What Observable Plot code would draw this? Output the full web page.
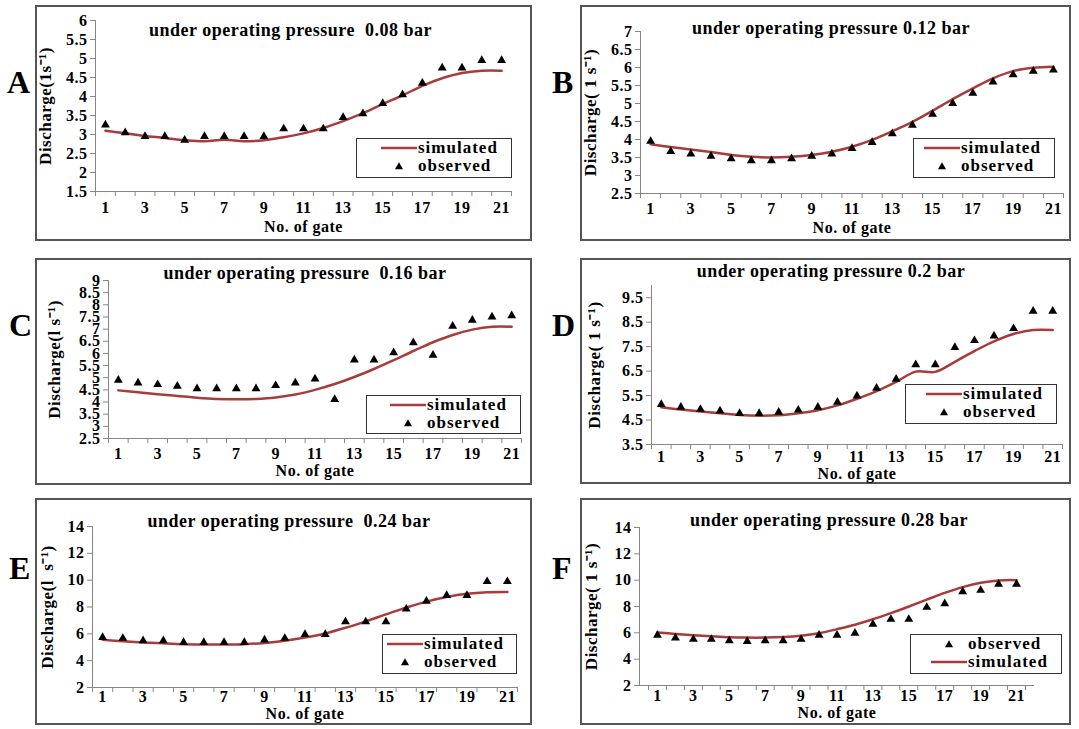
<!DOCTYPE html>
<html><head><meta charset="utf-8">
<script src="https://cdn.jsdelivr.net/npm/d3@7"></script>
<script src="https://cdn.jsdelivr.net/npm/@observablehq/plot@0.6"></script>
<style>
body{margin:0;background:#fff;}
#fig{position:relative;width:1079px;height:729px;overflow:hidden;font-family:'Liberation Serif','Times New Roman',serif;font-weight:bold;color:#000;background:#fff;}
.box{position:absolute;border:2px solid #555;box-sizing:border-box;}
.letter{position:absolute;font-size:32px;font-weight:bold;line-height:1;}
.legend{position:absolute;border:1.5px solid #333;background:#fff;box-sizing:border-box;font-size:17px;letter-spacing:1px;}
.legend .row{position:absolute;left:0;right:0;height:18px;display:flex;align-items:center;white-space:nowrap;}
.legend svg{flex:none;}
.plotwrap{position:absolute;}
.plotwrap svg{overflow:visible;}
.plotwrap svg text{font-family:'Liberation Serif','Times New Roman',serif;font-weight:bold;letter-spacing:0.5px;}
</style></head><body><div id="fig"></div><script>
// ---- data ----
const gates = [1,2,3,4,5,6,7,8,9,10,11,12,13,14,15,16,17,18,19,20,21];
const xTickLabels = [1,3,5,7,9,11,13,15,17,19,21];
const xTitle = "No. of gate";

const titleA = "under operating pressure  0.08 bar";
const ylabelA = "Discharge(1s\u207B\u00B9)";
const yTicksA = [1.5,2,2.5,3,3.5,4,4.5,5,5.5,6];
const obsA = [3.25,3.05,2.95,2.95,2.85,2.95,2.95,2.95,2.95,3.15,3.15,3.15,3.45,3.55,3.82,4.05,4.35,4.75,4.75,4.95,4.95];
const simA = [3.10,3.03,2.96,2.91,2.85,2.82,2.86,2.82,2.85,2.93,3.03,3.17,3.35,3.56,3.80,4.03,4.28,4.48,4.62,4.68,4.68];

const titleB = "under operating pressure 0.12 bar";
const ylabelB = "Discharge( 1 s\u207B\u00B9)";
const yTicksB = [2.5,3,3.5,4,4.5,5,5.5,6,6.5,7];
const obsB = [3.95,3.67,3.60,3.54,3.47,3.41,3.41,3.47,3.54,3.60,3.75,3.92,4.16,4.40,4.70,5.00,5.29,5.60,5.80,5.90,5.93];
const simB = [3.87,3.79,3.72,3.65,3.57,3.52,3.50,3.52,3.57,3.66,3.80,3.99,4.23,4.49,4.80,5.12,5.42,5.70,5.90,5.99,6.02];

const titleC = "under operating pressure  0.16 bar";
const ylabelC = "Discharge(l s\u207B\u00B9)";
const yTicksC = [2.5,3,3.5,4,4.5,5,5.5,6,6.5,7,7.5,8,8.5,9];
const obsC = [4.90,4.79,4.72,4.65,4.55,4.55,4.55,4.55,4.68,4.79,4.95,4.11,5.73,5.73,6.03,6.44,5.93,7.12,7.37,7.50,7.55];
const simC = [4.48,4.40,4.32,4.25,4.18,4.13,4.11,4.13,4.19,4.31,4.50,4.74,5.03,5.36,5.72,6.10,6.46,6.76,6.98,7.10,7.10];

const titleD = "under operating pressure 0.2 bar";
const ylabelD = "Discharge( 1 s\u207B\u00B9)";
const yTicksD = [3.5,4.5,5.5,6.5,7.5,8.5,9.5];
const yMaxD = 10;
const obsD = [5.14,5.03,4.94,4.87,4.77,4.77,4.82,4.91,5.03,5.23,5.49,5.80,6.17,6.76,6.76,7.47,7.75,7.94,8.24,8.95,8.95];
const simD = [5.02,4.93,4.85,4.78,4.71,4.68,4.70,4.78,4.90,5.10,5.37,5.68,6.06,6.48,6.47,6.88,7.32,7.72,8.02,8.18,8.18];

const titleE = "under operating pressure  0.24 bar";
const ylabelE = "Discharge(l  s\u207B\u00B9)";
const yTicksE = [2,4,6,8,10,12,14];
const obsE = [5.74,5.67,5.49,5.49,5.36,5.36,5.36,5.36,5.54,5.67,5.95,5.95,6.90,6.90,6.90,7.85,8.44,8.87,8.87,9.90,9.90];
const simE = [5.56,5.45,5.36,5.29,5.23,5.20,5.20,5.23,5.32,5.48,5.72,6.03,6.45,6.93,7.45,7.95,8.40,8.74,8.98,9.10,9.12];

const titleF = "under operating pressure 0.28 bar";
const ylabelF = "Discharge( 1 s\u207B\u00B9)";
const yTicksF = [2,4,6,8,10,12,14];
const obsF = [5.82,5.61,5.51,5.51,5.41,5.35,5.41,5.41,5.51,5.82,5.82,5.97,6.65,7.03,7.03,7.94,8.22,9.12,9.23,9.69,9.69];
const simF = [6.03,5.92,5.82,5.74,5.67,5.64,5.64,5.68,5.78,5.97,6.28,6.62,7.03,7.50,8.00,8.52,9.03,9.47,9.80,9.98,10.00];

// ---- layout / style (not data) ----
const LINE = "#A83C3C", AXIS = "#868686";
const FONT = "'Liberation Serif','Times New Roman',serif";
const panels = [
  {letter:"A", title:titleA, ylabel:ylabelA, yTicks:yTicksA, yDomain:[yTicksA[0], yTicksA[yTicksA.length-1]], sim:simA, obs:obsA, xDomain:[0.5,21.5],
   box:[35,5,497,236], plot:[95,20,511,191], letterPos:[7,66], titleOff:[-13,10], ylabOff:-50, xlabOff:35, xPad:10,
   legend:[356,138,156,40], legendOrder:["simulated","observed"]},
  {letter:"B", title:titleB, ylabel:ylabelB, yTicks:yTicksB, yDomain:[yTicksB[0], yTicksB[yTicksB.length-1]], sim:simB, obs:obsB, xDomain:[0.5,21.5],
   box:[580,5,491,236], plot:[640,31,1063,193], letterPos:[552,66], titleOff:[-21,-3], ylabOff:-50, xlabOff:34, xPad:9,
   legend:[913,138,142,40], legendOrder:["simulated","observed"]},
  {letter:"C", title:titleC, ylabel:ylabelC, yTicks:yTicksC, yDomain:[yTicksC[0], yTicksC[yTicksC.length-1]], sim:simC, obs:obsC, xDomain:[0.5,21.5],
   box:[35,258,497,227], plot:[108,280,521,438], letterPos:[9,309], titleOff:[-10,-7], ylabOff:-54, xlabOff:32, xPad:9,
   legend:[366,395,155,39], legendOrder:["simulated","observed"]},
  {letter:"D", title:titleD, ylabel:ylabelD, yTicks:yTicksD, yDomain:[yTicksD[0], yMaxD], sim:simD, obs:obsD, xDomain:[0.5,21.5],
   box:[580,258,491,226], plot:[651,285,1062,444], letterPos:[552,309], titleOff:[-26,-14], ylabOff:-57, xlabOff:29, xPad:6,
   legend:[905,384,152,40], legendOrder:["simulated","observed"]},
  {letter:"E", title:titleE, ylabel:ylabelE, yTicks:yTicksE, yDomain:[yTicksE[0], yTicksE[yTicksE.length-1]], sim:simE, obs:obsE, xDomain:[0.5,21.5],
   box:[35,498,497,227], plot:[92,526,517,687], letterPos:[9,552], titleOff:[-16,-5], ylabOff:-45, xlabOff:26, xPad:3,
   legend:[382,634,135,40], legendOrder:["simulated","observed"]},
  {letter:"F", title:titleF, ylabel:ylabelF, yTicks:yTicksF, yDomain:[yTicksF[0], yTicksF[yTicksF.length-1]], sim:simF, obs:obsF, xDomain:[0,22],
   box:[580,498,491,227], plot:[639,527,1034,685], letterPos:[552,552], titleOff:[-8,-7], ylabOff:-48, xlabOff:27, xPad:4,
   legend:[910,634,152,40], legendOrder:["observed","simulated"]}
];

const fig = document.getElementById("fig");

function legendSymbol(name){
  const ns = "http://www.w3.org/2000/svg";
  const s = document.createElementNS(ns,"svg");
  s.setAttribute("width","40"); s.setAttribute("height","18");
  if (name === "simulated") {
    const l = document.createElementNS(ns,"line");
    l.setAttribute("x1","4"); l.setAttribute("x2","40"); l.setAttribute("y1","9"); l.setAttribute("y2","9");
    l.setAttribute("stroke",LINE); l.setAttribute("stroke-width","2.5");
    s.appendChild(l);
  } else {
    const p = document.createElementNS(ns,"path");
    p.setAttribute("d", d3.symbol(d3.symbolTriangle, 9*Math.PI)());
    p.setAttribute("transform","translate(22,10)");
    p.setAttribute("fill","black");
    s.appendChild(p);
  }
  return s;
}

const txt = {fontFamily: FONT, fontWeight: "bold"};

for (const p of panels) {
  const [bx,by,bw,bh] = p.box;
  const [px0,py0,px1,py1] = p.plot;
  const data = gates.map((g,i)=>({gate:g, sim:p.sim[i], obs:p.obs[i]}));
  const boundaries = d3.range(0.5, 21.6, 1);

  const box = document.createElement("div");
  box.className = "box";
  Object.assign(box.style,{left:bx+"px",top:by+"px",width:bw+"px",height:bh+"px"});
  fig.appendChild(box);

  const chart = Plot.plot({
    width: bw, height: bh,
    marginLeft: px0-bx, marginTop: py0-by, marginRight: bx+bw-px1, marginBottom: by+bh-py1,
    x: {domain: p.xDomain},
    y: {domain: p.yDomain},
    style: {fontFamily: FONT, fontSize: "16px", fontWeight: "bold", color: "#000", background: "transparent", overflow: "visible"},
    marks: [
      Plot.axisY({ticks: p.yTicks, tickSize: 5, tickFormat: () => "", color: AXIS, label: null}),
      Plot.axisY({ticks: p.yTicks, tickSize: 0, tickPadding: 8, tickFormat: d => String(d), color: "#000", label: null, fontSize: 16, ...txt}),
      Plot.axisX({ticks: boundaries, tickSize: 5, tickFormat: () => "", color: AXIS, label: null}),
      Plot.axisX({ticks: xTickLabels, tickSize: 0, tickPadding: p.xPad, tickFormat: d => String(d), color: "#000", label: null, fontSize: 16, ...txt}),
      Plot.ruleX([p.xDomain[0]], {stroke: AXIS}),
      Plot.ruleY([p.yDomain[0]], {stroke: AXIS}),
      Plot.line(data, {x: "gate", y: "sim", stroke: LINE, strokeWidth: 2.5, curve: "catmull-rom"}),
      Plot.dot(data, {x: "gate", y: "obs", symbol: "triangle", fill: "black", r: 3.3}),
      Plot.text([p.title], {text: d => d, frameAnchor: "top", lineAnchor: "middle", dx: p.titleOff[0], dy: p.titleOff[1], fontSize: 18, ...txt}),
      Plot.text([p.ylabel], {text: d => d, frameAnchor: "left", textAnchor: "middle", lineAnchor: "middle", rotate: -90, dx: p.ylabOff, fontSize: 17, ...txt}),
      Plot.text([xTitle], {text: d => d, frameAnchor: "bottom", lineAnchor: "middle", dy: p.xlabOff, fontSize: 16, ...txt})
    ]
  });
  const wrap = document.createElement("div");
  wrap.className = "plotwrap";
  Object.assign(wrap.style,{left:bx+"px",top:by+"px"});
  wrap.appendChild(chart);
  fig.appendChild(wrap);

  const [lx,ly,lw,lh] = p.legend;
  const lg = document.createElement("div");
  lg.className = "legend";
  Object.assign(lg.style,{left:lx+"px",top:ly+"px",width:lw+"px",height:lh+"px"});
  p.legendOrder.forEach((name,i)=>{
    const row = document.createElement("div");
    row.className = "row";
    row.style.top = (0 + i*18) + "px";
    row.style.paddingLeft = Math.max(0, lw - 136) + "px";
    row.appendChild(legendSymbol(name));
    const t = document.createElement("span");
    t.textContent = name;
    t.style.marginLeft = "1px";
    row.appendChild(t);
    lg.appendChild(row);
  });
  fig.appendChild(lg);

  const L = document.createElement("div");
  L.className = "letter";
  L.textContent = p.letter;
  Object.assign(L.style,{left:p.letterPos[0]+"px",top:p.letterPos[1]+"px"});
  fig.appendChild(L);
}
</script></body></html>
